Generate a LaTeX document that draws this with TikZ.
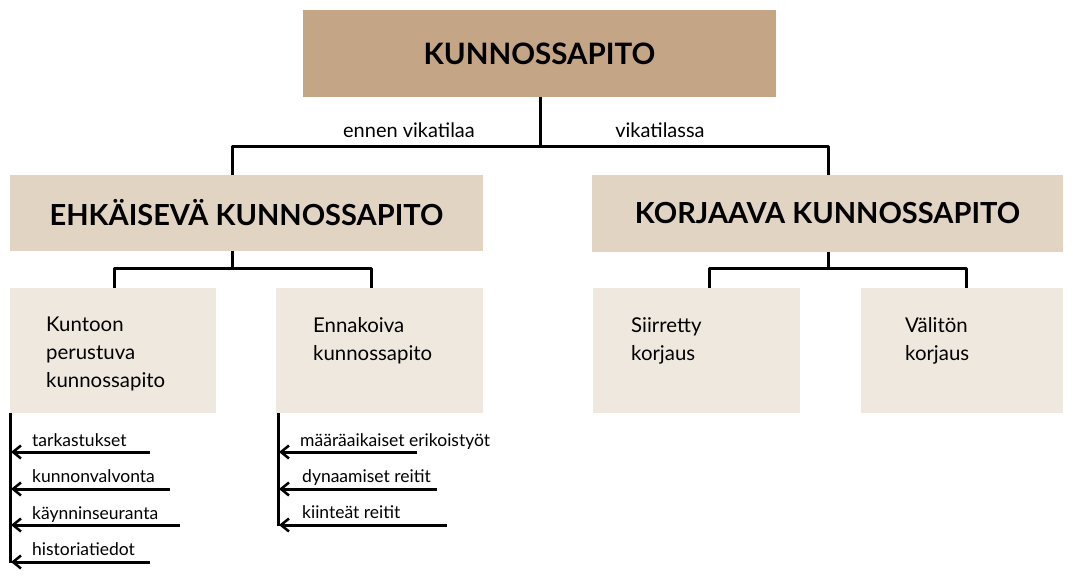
\documentclass[tikz,border=0pt]{standalone}
\usepackage{fontspec}
\setmainfont{Lato}
\usetikzlibrary{arrows.meta}
\definecolor{topc}{HTML}{C4A585}
\definecolor{midc}{HTML}{E2D4C3}
\definecolor{lowc}{HTML}{EFE8DF}
\begin{document}
\begin{tikzpicture}[x=1pt,y=-1pt,
  box/.style={draw=none,anchor=north west,inner sep=0pt,outer sep=0pt},
  topbox/.style={box,fill=topc},
  midbox/.style={box,fill=midc},
  lowbox/.style={box,fill=lowc},
  conn/.style={line width=3pt,line join=round},
  lbl/.style={font=\fontsize{20}{24}\selectfont},
  itemtxt/.style={anchor=base west,inner sep=0pt,font=\fontsize{17.5}{20}\selectfont},
  boxtxt/.style={anchor=north west,inner sep=0pt,align=left,font=\fontsize{20.4}{28}\selectfont},
  arr/.style={line width=3pt,-{Straight Barb[length=8pt,width=13pt,line width=2.5pt]}}
]
\useasboundingbox (0,0) rectangle (1076,580);
% boxes
\node[topbox,minimum width=473,minimum height=87] (top) at (303,10) {};
\node[font=\fontsize{29.5}{32}\selectfont\bfseries] at (top.center) {KUNNOSSAPITO};
\node[midbox,minimum width=473,minimum height=76] (ehk) at (10,175) {};
\node[font=\fontsize{29}{32}\selectfont\bfseries] at (ehk.center) {EHKÄISEVÄ KUNNOSSAPITO};
\node[midbox,minimum width=471,minimum height=77] (kor) at (592,175) {};
\node[font=\fontsize{29}{32}\selectfont\bfseries] at (kor.center) {KORJAAVA KUNNOSSAPITO};
\node[lowbox,minimum width=206,minimum height=125] (kun) at (10,288) {};
\node[boxtxt] at (46,317) {Kuntoon\\perustuva\\kunnossapito};
\node[lowbox,minimum width=207,minimum height=125] (enn) at (276,288) {};
\node[boxtxt] at (313,317) {Ennakoiva\\kunnossapito};
\node[lowbox,minimum width=207,minimum height=125] (sii) at (593,288) {};
\node[boxtxt] at (631,317) {Siirretty\\korjaus};
\node[lowbox,minimum width=202,minimum height=125] (val) at (861,288) {};
\node[boxtxt] at (905,317) {Välitön\\korjaus};
% connectors level 1
\coordinate (j1) at (540,147);
\draw[conn] (top.south -| j1) -- (j1);
\draw[conn] (ehk.north -| 232,0) -- (232,147) -- (828,147) -- (kor.north -| 828,0);
\node[lbl] at (409,130) {ennen vikatilaa};
\node[lbl] at (660,130) {vikatilassa};
% level 2
\draw[conn] (232,251) -- (232,268);
\draw[conn] (kun.north -| 114,0) -- (114,268) -- (371,268) -- (enn.north -| 371,0);
\draw[conn] (828,252) -- (828,268);
\draw[conn] (sii.north -| 709,0) -- (709,268) -- (966,268) -- (val.north -| 966,0);
% left list
\draw[conn] (kun.south west) ++(0.5,0) -- (10.5,563);
\coordinate (a1) at (150,452);
\coordinate (a2) at (170,489);
\coordinate (a3) at (180,525);
\coordinate (a4) at (150,562);
\draw[arr] (a1) -- (a1 -| 11,0);
\draw[arr] (a2) -- (a2 -| 11,0);
\draw[arr] (a3) -- (a3 -| 11,0);
\draw[arr] (a4) -- (a4 -| 11,0);
\node[itemtxt] at (32,446) {tarkastukset};
\node[itemtxt] at (32,482) {kunnonvalvonta};
\node[itemtxt] at (32,519) {käynninseuranta};
\node[itemtxt] at (32,555) {historiatiedot};
% right list
\draw[conn] (278,413) -- (278,526);
\coordinate (b1) at (417,452);
\coordinate (b2) at (437,489);
\coordinate (b3) at (447,525);
\draw[arr] (b1) -- (b1 -| 279,0);
\draw[arr] (b2) -- (b2 -| 279,0);
\draw[arr] (b3) -- (b3 -| 279,0);
\node[itemtxt] at (300,446) {määräaikaiset erikoistyöt};
\node[itemtxt] at (302,482) {dynaamiset reitit};
\node[itemtxt] at (302,518) {kiinteät reitit};
\end{tikzpicture}
\end{document}
